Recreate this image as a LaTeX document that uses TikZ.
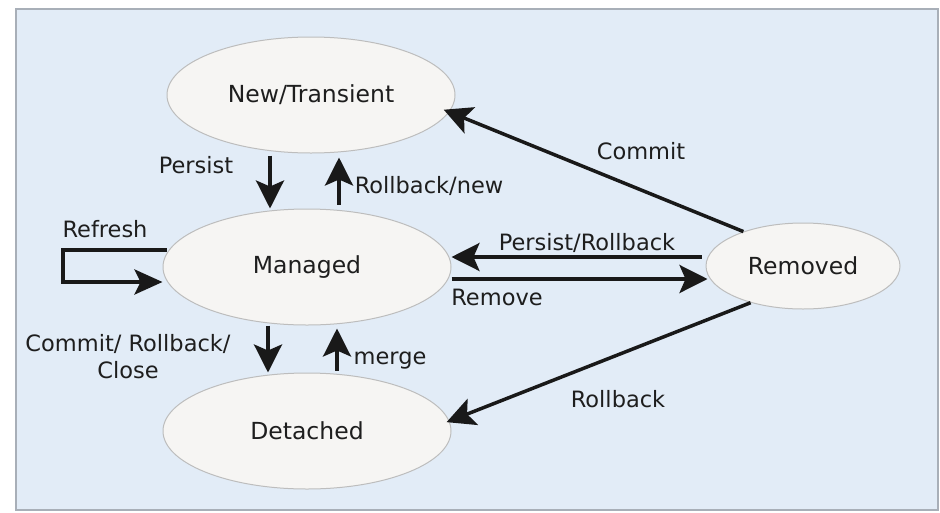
\documentclass[tikz,border=0pt]{standalone}
\usepackage{fontspec}
\setmainfont{DejaVu Sans}
\usetikzlibrary{arrows.meta,shapes.geometric}
\definecolor{bgblue}{HTML}{E2ECF7}
\definecolor{bgborder}{HTML}{A8AFB8}
\definecolor{ellfill}{HTML}{F6F5F3}
\definecolor{elldraw}{HTML}{BDBDBD}
\definecolor{txt}{HTML}{1E1E1E}
\tikzset{
  state/.style={ellipse, draw=elldraw, line width=1pt, fill=ellfill, text=txt,
    font=\fontsize{23.5}{26}\selectfont, inner sep=0pt},
  bigstate/.style={state, minimum width=288pt, minimum height=116pt},
  smallstate/.style={state, minimum width=194pt, minimum height=86pt},
  lbl/.style={text=txt, font=\fontsize{22.5}{27}\selectfont, inner sep=0pt, align=center},
  arr/.style={draw=black!90, line width=3.5pt, -{Stealth[length=28pt,width=28pt,inset=6pt]}},
  looparr/.style={draw=black!90, line width=4pt, -{Stealth[length=28pt,width=25pt,inset=6pt]}}
}
\begin{document}
\begin{tikzpicture}[x=1pt,y=-1pt]
\useasboundingbox (0,0) rectangle (940,512);
\fill[white] (0,0) rectangle (940,512);
\draw[fill=bgblue, draw=bgborder, line width=1.2pt] (16,9) rectangle (938,510);

\node[bigstate] (new) at (311,95) {New/Transient};
\node[bigstate] (man) at (307,267) {Managed};
\node[bigstate] (det) at (307,431) {Detached};
\node[smallstate] (rem) at (803,266) {Removed};

\coordinate (xa) at (270,0);
\coordinate (xb) at (339,0);
\coordinate (xc) at (268,0);
\coordinate (xd) at (337,0);
\coordinate (ya) at (0,257);
\coordinate (yb) at (0,279);

% New <-> Managed
\draw[arr, shorten <=2pt] (new.south -| xa) -- (man.north -| xa);
\draw[arr, shorten <=4pt, shorten >=4pt] (man.north -| xb) -- (new.south -| xb);
% Managed <-> Detached
\draw[arr] (man.south -| xc) -- (det.north -| xc);
\draw[arr, shorten <=2pt, shorten >=3pt] (det.north -| xd) -- (man.south -| xd);
% Managed <-> Removed
\draw[arr, shorten <=4pt] (rem.west |- ya) -- (man.east |- ya);
\draw[arr, shorten >=-2pt] (man.east |- yb) -- (rem.west |- yb);
% Removed -> New, Removed -> Detached
\draw[arr, shorten >=-6pt] (rem.150) -- (new.-7);
\draw[arr, shorten >=-3pt] (rem.-145) -- (det.4);
% Refresh loop
\draw[looparr, line join=miter] ([yshift=17pt,xshift=4pt]man.west) -- ++(-104,0) |- ([yshift=-15pt]man.west);

% labels
\node[lbl] (lpersist) at (196,165) {Persist};
\node[lbl] (lrbnew) at (429,186) {Rollback/new};
\node[lbl] (lrefresh) at (105,229) {Refresh};
\node[lbl] (lprb) at (587,243) {Persist/Rollback};
\node[lbl] (lremove) at (497,297) {Remove};
\node[lbl] (lcommit) at (641,151) {Commit};
\node[lbl] (lrollback) at (618,399) {Rollback};
\node[lbl] (lcrc) at (128,357) {Commit/ Rollback/\\Close};
\node[lbl] (lmerge) at (390,361) {merge};
\end{tikzpicture}
\end{document}
